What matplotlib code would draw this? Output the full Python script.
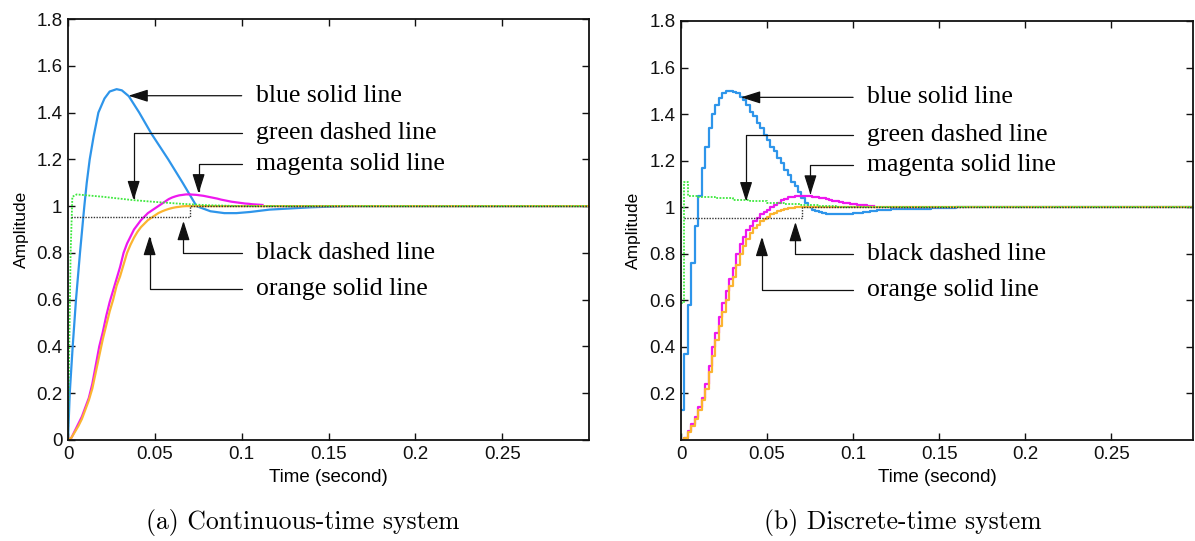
import numpy as np
import matplotlib
matplotlib.use("Agg")
import matplotlib.pyplot as plt

# ---------------- data ----------------
T = 0.002  # sampling period of the discrete-time system

# continuous-time system
blue_t_c = [0, 0.001, 0.0027, 0.0046, 0.0069, 0.0094, 0.0108, 0.0125, 0.0148, 0.0175, 0.021, 0.024,
            0.028, 0.031, 0.035, 0.041, 0.048, 0.0577, 0.066, 0.074, 0.082, 0.090, 0.097, 0.105,
            0.116, 0.128, 0.140, 0.160, 0.300]
blue_y_c = [0, 0.2, 0.4, 0.6, 0.8, 1.0, 1.1, 1.2, 1.3, 1.4, 1.46, 1.49,
            1.5, 1.495, 1.47, 1.4, 1.31, 1.2, 1.1, 1.0, 0.978, 0.97, 0.97, 0.975,
            0.985, 0.99, 0.995, 1.0, 1.0]
green_t_c = [0, 0.0015, 0.0025, 0.005, 0.02, 0.037, 0.05, 0.065, 0.08, 0.1, 0.3]
green_y_c = [0, 0.8, 1.04, 1.05, 1.04, 1.026, 1.018, 1.01, 1.004, 1.0, 1.0]

# discrete-time system (one value per sample period)
blue_d = [0.13, 0.37, 0.58, 0.76, 0.92, 1.05, 1.17, 1.26, 1.34, 1.40, 1.44, 1.47, 1.49, 1.50,
          1.50, 1.497, 1.49, 1.475, 1.46, 1.44, 1.41, 1.39, 1.36, 1.34, 1.31, 1.29, 1.26, 1.24,
          1.21, 1.19, 1.16, 1.14, 1.11, 1.09, 1.065, 1.04, 1.02, 1.0, 0.99, 0.983, 0.978, 0.975,
          0.973, 0.972, 0.971, 0.971, 0.971, 0.971, 0.972, 0.973, 0.974, 0.975, 0.977, 0.978,
          0.98, 0.982, 0.984, 0.986, 0.988, 0.99, 0.99]
blue_tail_t = [0.122, 0.13, 0.145, 0.16, 0.3]
blue_tail_y = [0.991, 0.993, 0.996, 1.0, 1.0]

magenta_d = [0, 0.01, 0.04, 0.07, 0.1, 0.14, 0.18, 0.24, 0.32, 0.40, 0.46, 0.53, 0.59, 0.64,
             0.69, 0.74, 0.80, 0.84, 0.87, 0.90, 0.92, 0.94, 0.955, 0.97, 0.98, 0.99, 1.0,
             1.01, 1.02, 1.03, 1.037, 1.042, 1.046, 1.048, 1.05, 1.05, 1.049, 1.048, 1.046,
             1.044, 1.041, 1.038, 1.035, 1.032, 1.028, 1.025, 1.022, 1.019, 1.017, 1.015,
             1.013, 1.011, 1.01, 1.008, 1.007, 1.006, 1.005]
magenta_tail_t = [0.112, 0.165]
magenta_tail_y = [1.0, 1.0]

orange_d = [0, 0.01, 0.035, 0.06, 0.09, 0.13, 0.17, 0.22, 0.29, 0.36, 0.43, 0.49, 0.55, 0.60,
            0.66, 0.70, 0.75, 0.80, 0.835, 0.865, 0.89, 0.91, 0.925, 0.94, 0.95, 0.96, 0.97,
            0.977, 0.983, 0.988, 0.992, 0.995, 0.997, 0.999, 1.0]
orange_tail_t = [0.3]
orange_tail_y = [1.0]

green_t_d = [0, 0.002, 0.004, 0.01, 0.02, 0.03, 0.04, 0.05, 0.06, 0.07, 0.08, 0.09, 0.1, 0.3]
green_y_d = [0.59, 1.11, 1.05, 1.045, 1.04, 1.033, 1.025, 1.02, 1.015, 1.01, 1.006, 1.003, 1.0, 1.0]

black_t = [0.002, 0.0705, 0.3]
black_y = [0.952, 1.0, 1.0]

x_ticks = [0, 0.05, 0.1, 0.15, 0.2, 0.25]
x_ticklabels = ["0", "0.05", "0.1", "0.15", "0.2", "0.25"]
y_ticks_a = [0, 0.2, 0.4, 0.6, 0.8, 1.0, 1.2, 1.4, 1.6, 1.8]
y_ticklabels_a = ["0", "0.2", "0.4", "0.6", "0.8", "1", "1.2", "1.4", "1.6", "1.8"]
y_ticks_b = [0.2, 0.4, 0.6, 0.8, 1.0, 1.2, 1.4, 1.6, 1.8]
y_ticklabels_b = ["0.2", "0.4", "0.6", "0.8", "1", "1.2", "1.4", "1.6", "1.8"]

labels = ["blue solid line", "green dashed line", "magenta solid line",
          "black dashed line", "orange solid line"]
label_y = [1.472, 1.312, 1.18, 0.80, 0.645]
tips = [(0.0348, 1.472), (0.0378, 1.025), (0.0752, 1.054), (0.0665, 0.937), (0.047, 0.873)]

captions = ["(a) Continuous-time system", "(b) Discrete-time system"]

# ---------------- style ----------------
C_BLUE = "#2e95ea"
C_MAG = "#ee18ee"
C_ORANGE = "#fbb430"
C_GREEN = "#3fe83f"
C_BLACK = "#333333"
SANS = "Liberation Sans"
SERIF = "Liberation Serif"

fig = plt.figure(figsize=(11.95, 5.41), dpi=100)
W, H = 1195, 541
ax1 = fig.add_axes([68 / W, 1 - 440 / H, (589 - 68) / W, (440 - 19) / H])
ax2 = fig.add_axes([681 / W, 1 - 440 / H, (1193 - 681) / W, (440 - 21) / H])

t_blue_d = np.arange(len(blue_d)) * T
t_mag_d = np.arange(len(magenta_d)) * T
t_or_d = np.arange(len(orange_d)) * T

lw = 1.6
# continuous
ax1.plot(blue_t_c, blue_y_c, color=C_BLUE, lw=lw)
ax1.plot(t_mag_d, magenta_d, color=C_MAG, lw=lw)
ax1.plot(magenta_tail_t, magenta_tail_y, color=C_MAG, lw=1.0, ls=":")
ax1.plot(list(t_or_d) + orange_tail_t, orange_d + orange_tail_y, color=C_ORANGE, lw=lw)
ax1.plot(green_t_c, green_y_c, color=C_GREEN, lw=1.3, ls=(0, (1, 0.8)))
ax1.step(black_t, black_y, where="post", color=C_BLACK, lw=1.0, ls=(0, (1, 1)))

# discrete
ax2.step(list(t_blue_d) + blue_tail_t, blue_d + blue_tail_y, where="post", color=C_BLUE, lw=lw)
ax2.step(t_mag_d, magenta_d, where="post", color=C_MAG, lw=lw)
ax2.plot(magenta_tail_t, magenta_tail_y, color=C_MAG, lw=1.0, ls=":")
ax2.step(list(t_or_d) + orange_tail_t, orange_d + orange_tail_y, where="post", color=C_ORANGE, lw=lw)
ax2.step(green_t_d, green_y_d, where="post", color=C_GREEN, lw=1.3, ls=(0, (1, 0.8)))
ax2.step(black_t, black_y, where="post", color=C_BLACK, lw=1.0, ls=(0, (1, 1)))

for ax, yt, ytl, xmax in [(ax1, y_ticks_a, y_ticklabels_a, 0.3),
                          (ax2, y_ticks_b, y_ticklabels_b, 0.2975)]:
    ax.set_xlim(0, xmax)
    ax.set_ylim(0, 1.8)
    ax.set_xticks(x_ticks)
    ax.set_xticklabels(x_ticklabels, fontfamily=SANS, fontsize=13.5)
    ax.set_yticks(yt)
    ax.set_yticklabels(ytl, fontfamily=SANS, fontsize=13.5)
    ax.tick_params(direction="in", length=5, width=1, top=True, right=True, pad=4,
                   colors="#111111")
    for s in ax.spines.values():
        s.set_linewidth(1.3)
        s.set_color("#111111")
    ax.set_xlabel("Time (second)", fontfamily=SANS, fontsize=13.5, labelpad=5)
    ax.set_ylabel("Amplitude", fontfamily=SANS, fontsize=12.5)

    # annotations
    for lab, ly, (tx, ty) in zip(labels, label_y, tips):
        ax.text(0.108, ly, lab, fontfamily=SERIF, fontsize=18.5, ha="left", va="center")
        if abs(ty - ly) < 1e-6:
            cs = "arc3,rad=0"
        else:
            cs = "angle,angleA=0,angleB=90,rad=0"
        ax.annotate("", xy=(tx, ty), xytext=(0.1, ly),
                    arrowprops=dict(arrowstyle="-|>,head_length=1.2,head_width=0.38",
                                    connectionstyle=cs, color="#111111", lw=0.9,
                                    shrinkA=0, shrinkB=0, mutation_scale=10))

ax1.yaxis.set_label_coords(-0.075, 0.5)
ax2.yaxis.set_label_coords(-0.078, 0.5)

fig.text(303 / W, 1 - 522 / H, captions[0], fontfamily="cmr10", fontsize=18.5,
         ha="center", va="center")
fig.text(903 / W, 1 - 522 / H, captions[1], fontfamily="cmr10", fontsize=18.5,
         ha="center", va="center")

fig.savefig("out.png", dpi=100)
